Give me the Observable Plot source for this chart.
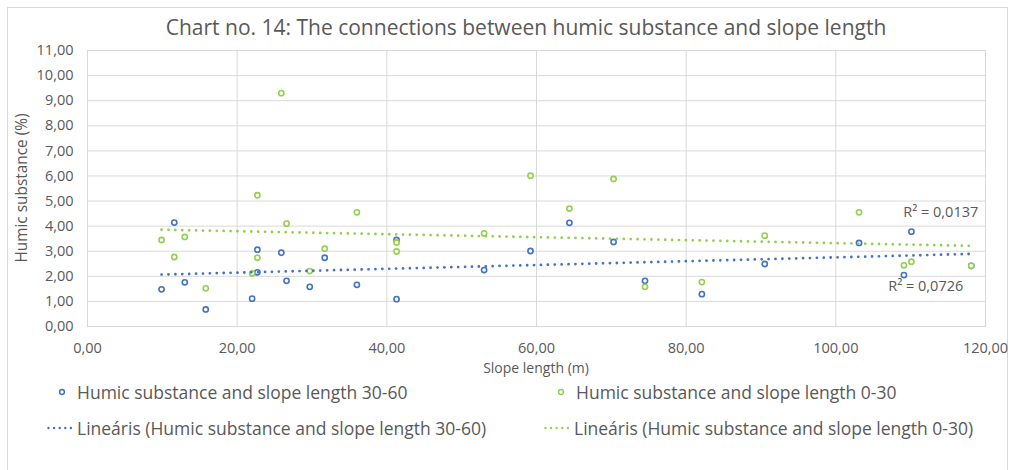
<!DOCTYPE html>
<html>
<head>
<meta charset="utf-8">
<script src="https://cdn.jsdelivr.net/npm/d3@7"></script>
<script src="https://cdn.jsdelivr.net/npm/@observablehq/plot@0.6"></script>
<style>
  body { margin: 0; background: #fff; }
  #chart { position: relative; width: 1017px; height: 470px; font-family: "Open Sans", sans-serif; color: #595959; overflow: hidden; }
  #frame { position: absolute; left: 7px; top: 7px; width: 1001px; height: 470px; border: 1px solid #d9d9d9; box-sizing: border-box; }
  #title { position: absolute; left: 0; width: 1052px; top: 12px; text-align: center; font-size: 21px; line-height: 30px; }
  .axt { position: absolute; white-space: nowrap; }
  #xlabel { left: 0; width: 1072px; top: 358px; text-align: center; line-height: 20px; font-size: 14px; }
  #ylabel { left: 22px; top: 188px; transform: translate(-50%, -50%) rotate(-90deg); line-height: 20px; font-size: 15.4px; }
  .leg { position: absolute; font-size: 17.5px; white-space: nowrap; line-height: 22px; display: flex; align-items: center; }
  svg.plot { position: absolute; left: 0; top: 0; }
</style>
</head>
<body>
<div id="chart">
  <div id="frame"></div>
  <div id="title"></div>
  <div id="xlabel" class="axt"></div>
  <div id="ylabel" class="axt"></div>
</div>
<script>
// ---- data ----
const titleText = "Chart no. 14: The connections between humic substance and slope length";
const xLabel = "Slope length (m)";
const yLabel = "Humic substance (%)";
const seriesNames = ["Humic substance and slope length 30-60", "Humic substance and slope length 0-30"];
const trendNames = ["Lineáris (Humic substance and slope length 30-60)", "Lineáris (Humic substance and slope length 0-30)"];
const r2Labels = ["R² = 0,0726", "R² = 0,0137"];
const colors = ["#4472C4", "#92D050"];

const xBlue = [11.6, 9.9, 13.0, 15.8, 22.7, 22.7, 22.0, 25.9, 26.6, 31.7, 29.7, 36.0,
               41.3, 41.3, 53.0, 59.2, 64.4, 70.3, 74.5, 82.1, 90.5, 103.1, 110.1, 109.1, 118.1];
const yBlue = [4.14, 1.48, 1.76, 0.68, 3.06, 2.16, 1.11, 2.94, 1.82, 2.74, 1.58, 1.66,
               3.45, 1.09, 2.25, 3.01, 4.13, 3.37, 1.82, 1.29, 2.49, 3.33, 3.78, 2.05, 2.42];
const xGreen = [9.9, 13.0, 11.6, 15.8, 25.9, 22.7, 26.6, 22.7, 22.0, 29.7, 31.7, 36.0,
                41.3, 41.3, 53.0, 59.2, 64.4, 70.3, 74.5, 82.1, 90.5, 103.1, 109.1, 110.1, 118.1];
const yGreen = [3.45, 3.57, 2.77, 1.52, 9.30, 5.23, 4.10, 2.74, 2.12, 2.21, 3.10, 4.55,
                3.35, 2.99, 3.71, 6.01, 4.70, 5.88, 1.58, 1.77, 3.62, 4.55, 2.44, 2.58, 2.42];
const xTicks = [0, 20, 40, 60, 80, 100, 120];
const yTicks = [0, 1, 2, 3, 4, 5, 6, 7, 8, 9, 10, 11];

// ---- build ----
const blue = xBlue.map((x, i) => ({x, y: yBlue[i]}));
const green = xGreen.map((x, i) => ({x, y: yGreen[i]}));
const fmt = v => d3.format(".2f")(v).replace(".", ",");

function fit(data) {
  const mx = d3.mean(data, d => d.x), my = d3.mean(data, d => d.y);
  const b = d3.sum(data, d => (d.x - mx) * (d.y - my)) / d3.sum(data, d => (d.x - mx) ** 2);
  const a = my - b * mx;
  const xe = d3.max(data, d => d.x);
  return {x: xe, y: a + b * xe};
}
const blueEnd = fit(blue), greenEnd = fit(green);

const trendStyle = {strokeWidth: 2.8, strokeDasharray: "0 6.9", strokeLinecap: "round", ci: 0};

const chart = Plot.plot({
  width: 1017,
  height: 470,
  marginLeft: 87,
  marginRight: 32,
  marginTop: 50,
  marginBottom: 144,
  style: {fontFamily: "Open Sans, sans-serif", fontSize: "14.5px", color: "#595959", background: "transparent"},
  x: {domain: [0, 120]},
  y: {domain: [0, 11]},
  marks: [
    Plot.gridX(xTicks, {stroke: "#d9d9d9", strokeOpacity: 1}),
    Plot.gridY(yTicks, {stroke: "#d9d9d9", strokeOpacity: 1}),
    Plot.frame({stroke: "#d9d9d9"}),
    Plot.axisX(xTicks, {tickSize: 0, tickPadding: 16, tickFormat: fmt, label: null, fill: "#595959"}),
    Plot.axisY(yTicks, {tickSize: 0, tickPadding: 14, tickFormat: fmt, label: null, fill: "#595959"}),
    Plot.dot(blue, {x: "x", y: "y", r: 2.6, stroke: colors[0], strokeWidth: 1.6, fill: "white"}),
    Plot.dot(green, {x: "x", y: "y", r: 2.6, stroke: colors[1], strokeWidth: 1.6, fill: "white"}),
    Plot.linearRegressionY(blue, {x: "x", y: "y", stroke: colors[0], ...trendStyle}),
    Plot.linearRegressionY(green, {x: "x", y: "y", stroke: colors[1], ...trendStyle}),
    Plot.text([greenEnd], {x: "x", y: "y", text: () => r2Labels[1], textAnchor: "end", dx: 7, dy: -33, fontSize: 14.5, fill: "#595959"}),
    Plot.text([blueEnd], {x: "x", y: "y", text: () => r2Labels[0], textAnchor: "end", dx: -8, dy: 32, fontSize: 14.5, fill: "#595959"})
  ]
});
chart.classList.add("plot");
const root = document.getElementById("chart");
root.appendChild(chart);

document.getElementById("title").textContent = titleText;
document.getElementById("xlabel").textContent = xLabel;
document.getElementById("ylabel").textContent = yLabel;

// legend
function legendItem(kind, color, text, left, top) {
  const div = document.createElement("div");
  div.className = "leg";
  div.style.left = left + "px";
  div.style.top = top + "px";
  const ns = "http://www.w3.org/2000/svg";
  const s = document.createElementNS(ns, "svg");
  if (kind === "dot") {
    s.setAttribute("width", 10); s.setAttribute("height", 10);
    const c = document.createElementNS(ns, "circle");
    c.setAttribute("cx", 5); c.setAttribute("cy", 5); c.setAttribute("r", 2.4);
    c.setAttribute("fill", "white"); c.setAttribute("stroke", color); c.setAttribute("stroke-width", 1.5);
    s.appendChild(c);
    s.style.marginRight = "10px";
  } else {
    s.setAttribute("width", 26); s.setAttribute("height", 6);
    const l = document.createElementNS(ns, "line");
    l.setAttribute("x1", 1.5); l.setAttribute("x2", 26); l.setAttribute("y1", 3); l.setAttribute("y2", 3);
    l.setAttribute("stroke", color); l.setAttribute("stroke-width", 2.4);
    l.setAttribute("stroke-dasharray", "0 5.6"); l.setAttribute("stroke-linecap", "round");
    s.appendChild(l);
    s.style.marginRight = "4px";
  }
  div.appendChild(s);
  const span = document.createElement("span");
  span.textContent = text;
  div.appendChild(span);
  root.appendChild(div);
}
legendItem("dot", colors[0], seriesNames[0], 57, 381);
legendItem("dot", colors[1], seriesNames[1], 556, 381);
legendItem("line", colors[0], trendNames[0], 47, 417);
legendItem("line", colors[1], trendNames[1], 544, 417);
</script>
</body>
</html>
